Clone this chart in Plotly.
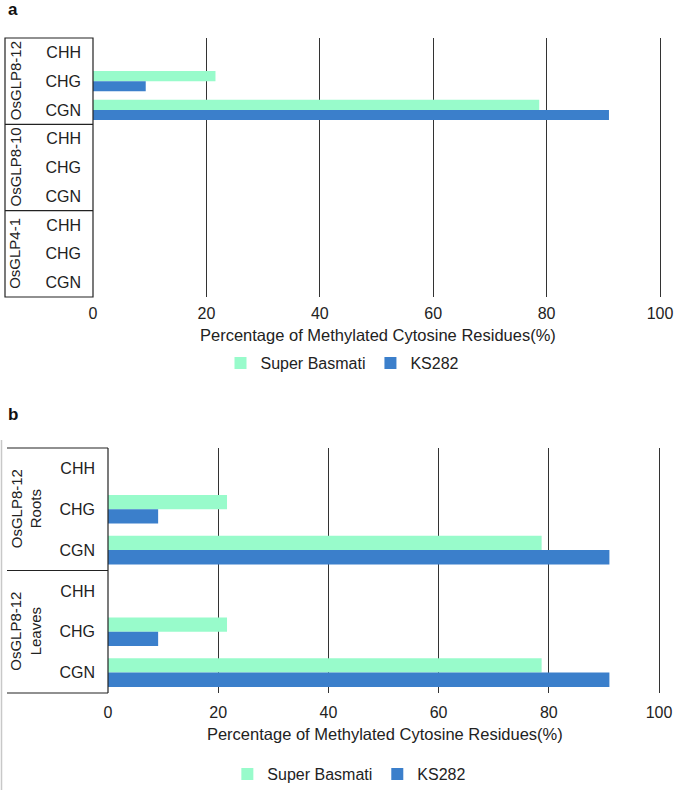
import plotly.graph_objects as go

# ---------------- data ----------------
contexts = ["CHH", "CHG", "CGN"]
genes_a = ["OsGLP8-12", "OsGLP8-10", "OsGLP4-1"]
super_basmati_a = [0, 21.6, 78.7, 0, 0, 0, 0, 0, 0]
ks282_a = [0, 9.3, 91.0, 0, 0, 0, 0, 0, 0]

tissues_b = ["OsGLP8-12<br>Roots", "OsGLP8-12<br>Leaves"]
super_basmati_b = [0, 21.6, 78.7, 0, 21.6, 78.7]
ks282_b = [0, 9.1, 91.0, 0, 9.1, 91.0]

series_names = ["Super Basmati", "KS282"]
series_colors = ["#98FBCB", "#3B7FCB"]
x_ticks = [0, 20, 40, 60, 80, 100]
x_title = "Percentage of Methylated Cytosine Residues(%)"

W, H = 685, 790
FONT = "Liberation Sans, Arial, sans-serif"
FS = 16
TXT = "#222"

cats_a = [f"{g}|{c}" for g in genes_a for c in contexts]
cats_b = [f"{t}|{c}" for t in tissues_b for c in contexts]

def px_x(v):
    return v / W

def px_y(v):
    return 1 - v / H

fig = go.Figure()

for name, col, vals in zip(series_names, series_colors, [super_basmati_a, ks282_a]):
    fig.add_trace(go.Bar(x=vals, y=cats_a, orientation="h", name=name,
                         marker=dict(color=col, line=dict(width=0)),
                         xaxis="x", yaxis="y", legend="legend"))
for name, col, vals in zip(series_names, series_colors, [super_basmati_b, ks282_b]):
    fig.add_trace(go.Bar(x=vals, y=cats_b, orientation="h", name=name,
                         marker=dict(color=col, line=dict(width=0)),
                         xaxis="x2", yaxis="y2", legend="legend2"))

xmax = 100.5
# panel geometry (pixels)
a_x0, a_x100, a_top, a_bot = 93, 660, 38, 297
b_x0, b_x100, b_top, b_bot = 108, 659, 448, 693

def xdom(x0, x100):
    return [px_x(x0), px_x(x0 + (x100 - x0) * xmax / 100)]

tfont = dict(size=FS, color=TXT, family=FONT)
title_font = dict(size=16.5, color=TXT, family=FONT)
common_x = dict(range=[0, xmax], tickvals=x_ticks, showgrid=True, gridcolor="#333",
                gridwidth=1.4, zeroline=False, showline=False, ticks="",
                tickfont=tfont)
fig.update_layout(
    xaxis=dict(domain=xdom(a_x0, a_x100), anchor="y", ticklabelstandoff=5,
               title=dict(text=x_title, font=title_font, standoff=8), **common_x),
    yaxis=dict(domain=[px_y(a_bot), px_y(a_top)], anchor="x", type="category",
               categoryorder="array", categoryarray=cats_a, autorange="reversed",
               tickvals=cats_a, ticktext=contexts * len(genes_a), showgrid=False,
               ticks="", ticklabelstandoff=11, tickfont=tfont),
    xaxis2=dict(domain=xdom(b_x0, b_x100), anchor="y2", ticklabelstandoff=8,
                title=dict(text=x_title, font=title_font, standoff=8), **common_x),
    yaxis2=dict(domain=[px_y(b_bot), px_y(b_top)], anchor="x2", type="category",
                categoryorder="array", categoryarray=cats_b, autorange="reversed",
                tickvals=cats_b, ticktext=contexts * len(tissues_b), showgrid=False,
                ticks="", ticklabelstandoff=12, tickfont=tfont),
    barmode="group", bargap=0.3, bargroupgap=0,
    width=W, height=H, margin=dict(l=0, r=0, t=0, b=0, autoexpand=False),
    paper_bgcolor="white", plot_bgcolor="white",
    font=dict(family=FONT, size=FS, color=TXT),
    legend=dict(orientation="h", x=0.5, xanchor="center", y=px_y(363), yanchor="middle",
                font=tfont, itemwidth=30, bgcolor="rgba(0,0,0,0)"),
    legend2=dict(orientation="h", x=0.51, xanchor="center", y=px_y(774), yanchor="middle",
                 font=tfont, itemwidth=30, bgcolor="rgba(0,0,0,0)"),
)

shapes = []
line_k = dict(color="#222", width=1.2)
# panel a box
shapes.append(dict(type="rect", xref="paper", yref="paper", x0=px_x(5), x1=px_x(a_x0),
                   y0=px_y(a_bot), y1=px_y(a_top), line=line_k))
for k in range(1, len(genes_a)):
    yv = k * len(contexts) - 0.5
    shapes.append(dict(type="line", xref="paper", yref="y", x0=px_x(5), x1=px_x(a_x0),
                       y0=yv, y1=yv, line=line_k))
# panel b box (no left edge)
for yy in (b_top, b_bot):
    shapes.append(dict(type="line", xref="paper", yref="paper", x0=px_x(7), x1=px_x(b_x0),
                       y0=px_y(yy), y1=px_y(yy), line=line_k))
shapes.append(dict(type="line", xref="paper", yref="paper", x0=px_x(b_x0), x1=px_x(b_x0),
                   y0=px_y(b_bot), y1=px_y(b_top), line=line_k))
for k in range(1, len(tissues_b)):
    yv = k * len(contexts) - 0.5
    shapes.append(dict(type="line", xref="paper", yref="y2", x0=px_x(7), x1=px_x(b_x0),
                       y0=yv, y1=yv, line=line_k))
# faint frame line on the left of panel b
shapes.append(dict(type="line", xref="paper", yref="paper", x0=px_x(1.5), x1=px_x(1.5),
                   y0=0, y1=px_y(440), line=dict(color="#c8c8c8", width=1.5)))
fig.update_layout(shapes=shapes)

gfont = dict(size=15, color=TXT, family=FONT)
ann = []
for g in genes_a:
    ann.append(dict(text=g, x=px_x(15), xref="paper", y=f"{g}|CHG", yref="y",
                    textangle=-90, showarrow=False, xanchor="center", yanchor="middle",
                    font=gfont))
for t in tissues_b:
    ann.append(dict(text=t, x=px_x(26), xref="paper", y=f"{t}|CHG", yref="y2",
                    textangle=-90, showarrow=False, xanchor="center", yanchor="middle",
                    font=gfont))
ann.append(dict(text="<b>a</b>", x=px_x(6), y=px_y(10), xref="paper", yref="paper",
                xanchor="left", yanchor="middle", showarrow=False,
                font=dict(size=17, color="#111", family=FONT)))
ann.append(dict(text="<b>b</b>", x=px_x(6), y=px_y(414), xref="paper", yref="paper",
                xanchor="left", yanchor="middle", showarrow=False,
                font=dict(size=17, color="#111", family=FONT)))
fig.update_layout(annotations=ann)

fig.write_html("out.html", config={"displayModeBar": False},
               post_script="document.body.style.margin='0';document.body.style.overflow='hidden';")
